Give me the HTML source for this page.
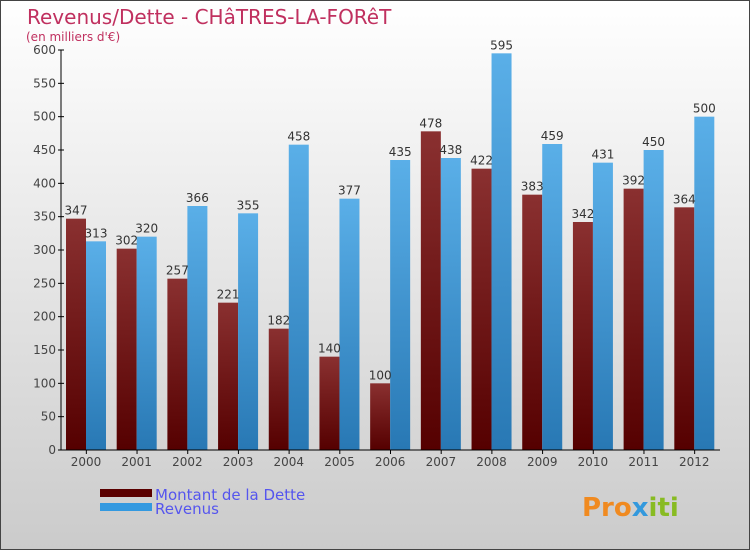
<!DOCTYPE html>
<html><head><meta charset="utf-8"><style>
body{margin:0;}
svg{display:block;font-family:"DejaVu Sans","Liberation Sans",sans-serif;}
</style></head><body>
<svg id="c" width="750" height="550" xmlns="http://www.w3.org/2000/svg">
<defs>
<linearGradient id="bg" x1="0" y1="0" x2="0" y2="1"><stop offset="0" stop-color="#ffffff"/><stop offset="1" stop-color="#cbcbcb"/></linearGradient>
<linearGradient id="gd" x1="0" y1="0" x2="0" y2="1"><stop offset="0" stop-color="#8a3030"/><stop offset="1" stop-color="#550000"/></linearGradient>
<linearGradient id="gr" x1="0" y1="0" x2="0" y2="1"><stop offset="0" stop-color="#5aafe8"/><stop offset="1" stop-color="#2878b4"/></linearGradient>
</defs>
<rect x="0.5" y="0.5" width="749" height="549" fill="url(#bg)" stroke="#444"/>
<text x="27" y="24" font-size="20" fill="#c0305f">Revenus/Dette - CHâTRES-LA-FORêT</text>
<text x="26" y="41" font-size="12" fill="#c0305f">(en milliers d'€)</text>
<g id="plot"></g>
<rect x="100" y="489" width="52" height="8" fill="#5a0000"/>
<rect x="100" y="503" width="52" height="8" fill="#3399e0"/>
<text x="155" y="500" font-size="15" fill="#5555ee">Montant de la Dette</text>
<text x="155" y="514" font-size="15" fill="#5555ee">Revenus</text>
<text x="582" y="516" font-size="26" font-weight="bold" fill="#f08a20">Pro<tspan fill="#3399dd">x</tspan><tspan fill="#88bb22">iti</tspan></text>
</svg>
<script>
const years=["2000","2001","2002","2003","2004","2005","2006","2007","2008","2009","2010","2011","2012"];
const dette=[347,302,257,221,182,140,100,478,422,383,342,392,364];
const revenus=[313,320,366,355,458,377,435,438,595,459,431,450,500];
const yTicks=[0,50,100,150,200,250,300,350,400,450,500,550,600];
const NS="http://www.w3.org/2000/svg";
const g=document.getElementById('plot');
const x0=61,x1=720,yb=450,yt=50,ymax=600;
const y=v=>yb-(v/ymax)*(yb-yt);
const step=(x1-x0)/years.length;
function mk(t,a,txt){const e=document.createElementNS(NS,t);for(const k in a)e.setAttribute(k,a[k]);if(txt!==undefined)e.textContent=txt;g.appendChild(e);return e;}
yTicks.forEach(v=>{
  const l=mk('line',{x1:x0-3,x2:x0+3,y1:y(v),y2:y(v),stroke:'#000'});
  
  
  const t=mk('text',{x:x0-5,y:y(v)+4,'font-size':12,fill:'#444','text-anchor':'end'},v);
  
  
});
years.forEach((yr,i)=>{
  const gx=x0+i*step;
  const bw=20;
  const bd=mk('rect',{x:gx+5,y:y(dette[i]),width:bw,height:yb-y(dette[i]),fill:'url(#gd)'});
  
  
  const br=mk('rect',{x:gx+5+bw,y:y(revenus[i]),width:bw,height:yb-y(revenus[i]),fill:'url(#gr)'});
  
  
  const ld=mk('text',{x:gx+5+bw/2,y:y(dette[i])-4,'font-size':12,fill:'#333','text-anchor':'middle'},dette[i]);
  
  
  const lr=mk('text',{x:gx+5+bw*1.5,y:y(revenus[i])-4,'font-size':12,fill:'#333','text-anchor':'middle'},revenus[i]);
  
  
  const tk=mk('line',{x1:gx+step/2,x2:gx+step/2,y1:yb,y2:yb+4,stroke:'#000'});
  
  
  const xl=mk('text',{x:gx+5+bw,y:yb+16,'font-size':12,fill:'#444','text-anchor':'middle'},yr);
  
  
});
const ya=mk('line',{x1:x0,x2:x0,y1:yt,y2:yb,stroke:'#000'});


const xa=mk('line',{x1:x0-3,x2:x1,y1:yb,y2:yb,stroke:'#000'});


</script>
</body></html>
